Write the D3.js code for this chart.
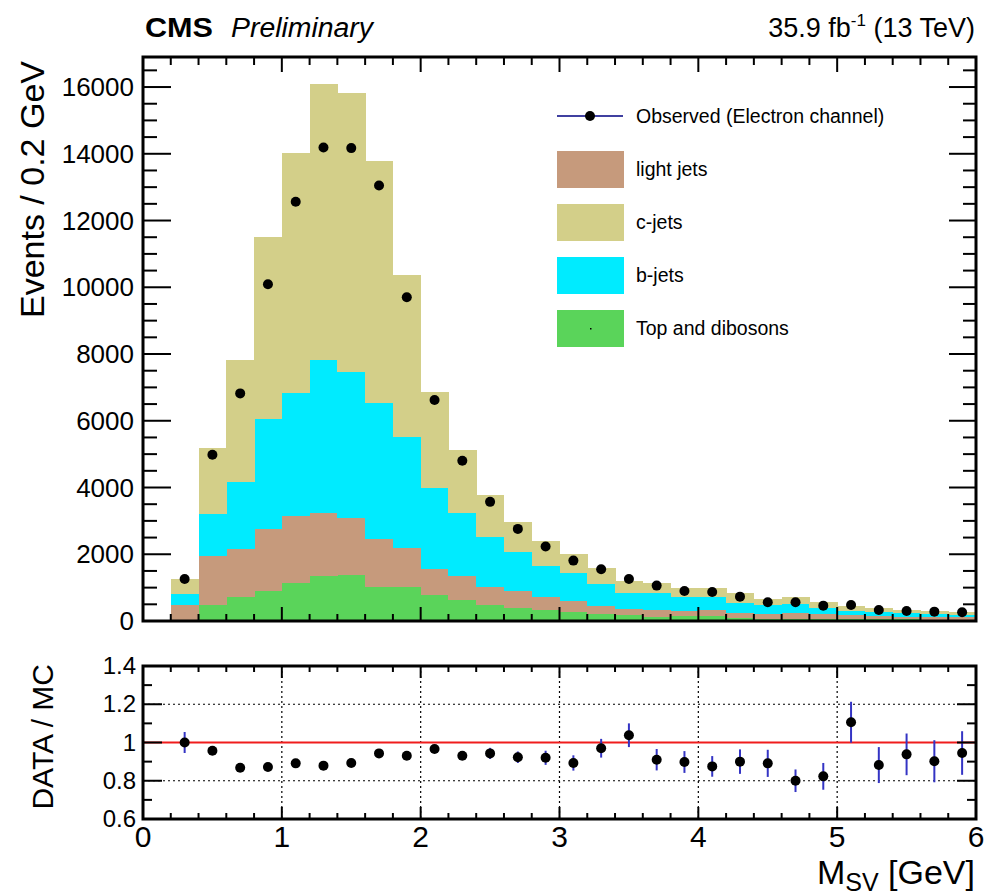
<!DOCTYPE html>
<html>
<head>
<meta charset="utf-8">
<script src="https://cdn.jsdelivr.net/npm/d3@7"></script>
<style>
  body { margin: 0; background: #fff; }
  svg text { font-family: "Liberation Sans", Arial, Helvetica, sans-serif; fill: #000; }
</style>
</head>
<body>
<svg id="chart" width="991" height="895"></svg>
<script>
// Secondary-vertex mass, bin centres (0.2 GeV bins)
const binCenters = [0.3, 0.5, 0.7, 0.9, 1.1, 1.3, 1.5, 1.7, 1.9, 2.1, 2.3, 2.5, 2.7, 2.9, 3.1,
                    3.3, 3.5, 3.7, 3.9, 4.1, 4.3, 4.5, 4.7, 4.9, 5.1, 5.3, 5.5, 5.7, 5.9];
const binWidth = 0.2;

// Simulated contributions per bin (events), stacked bottom to top
const topDibosons = [0, 470, 710, 900, 1130, 1350, 1380, 1030, 1010, 780, 640, 470, 390, 330, 270,
                     220, 170, 130, 160, 160, 80, 60, 60, 60, 50, 50, 50, 40, 40];
const lightJets   = [480, 1470, 1440, 1850, 2020, 1890, 1720, 1420, 1180, 790, 720, 540, 500, 380, 340,
                     230, 200, 200, 150, 170, 150, 140, 170, 140, 120, 100, 80, 90, 70];
const bJets       = [340, 1260, 2030, 3310, 3690, 4590, 4350, 4080, 3310, 2430, 1870, 1520, 1170, 940, 820,
                     660, 460, 500, 400, 390, 320, 280, 280, 180, 130, 110, 100, 80, 70];
const cJets       = [430, 1990, 3630, 5450, 7190, 8270, 8370, 7260, 4870, 2850, 1900, 1240, 920, 760, 580,
                     470, 370, 310, 270, 260, 280, 170, 200, 180, 150, 140, 100, 100, 100];

// Observed events (electron channel)
const observed = [1260, 4980, 6820, 10090, 12560, 14190, 14170, 13050, 9700, 6620, 4800, 3570, 2760, 2230, 1810,
                  1550, 1260, 1060, 900, 870, 730, 560, 560, 460, 480, 330, 300, 280, 260];

// Data / MC ratio with its uncertainty
const ratio    = [1.00, 0.957, 0.868, 0.872, 0.891, 0.879, 0.893, 0.943, 0.931, 0.966, 0.931, 0.943, 0.923, 0.920, 0.893,
                  0.970, 1.038, 0.910, 0.898, 0.875, 0.900, 0.891, 0.800, 0.823, 1.106, 0.882, 0.938, 0.902, 0.945];
const ratioErr = [0.055, 0.012, 0.012, 0.010, 0.008, 0.008, 0.008, 0.009, 0.010, 0.013, 0.015, 0.029, 0.030, 0.037, 0.040,
                  0.049, 0.062, 0.056, 0.057, 0.054, 0.064, 0.071, 0.059, 0.070, 0.107, 0.094, 0.109, 0.110, 0.114];

// Axis ticks
const xMajorTicks = [0, 1, 2, 3, 4, 5, 6];
const xMinorTicks = [0.2, 0.4, 0.6, 0.8, 1.2, 1.4, 1.6, 1.8, 2.2, 2.4, 2.6, 2.8, 3.2, 3.4, 3.6, 3.8,
                     4.2, 4.4, 4.6, 4.8, 5.2, 5.4, 5.6, 5.8];
const yMajorTicks = [0, 2000, 4000, 6000, 8000, 10000, 12000, 14000, 16000];
const yMinorTicks = [500, 1000, 1500, 2500, 3000, 3500, 4500, 5000, 5500, 6500, 7000, 7500, 8500, 9000, 9500,
                     10500, 11000, 11500, 12500, 13000, 13500, 14500, 15000, 15500, 16500];
const rMajorTicks = [0.6, 0.8, 1.0, 1.2, 1.4];
const rMinorTicks = [0.7, 0.9, 1.1, 1.3];
const rGridY = [0.8, 1.0, 1.2];
const rGridX = [1, 2, 3, 4, 5];

const seriesNames  = ["Top and dibosons", "light jets", "b-jets", "c-jets"];
const seriesColors = ["#5ad45a", "#c69a7c", "#00ebff", "#d3cf89"];
const legendOrder  = ["light jets", "c-jets", "b-jets", "Top and dibosons"];

const svg = d3.select("#chart");

const x = d3.scaleLinear().domain([0, 6]).range([143, 976]);
const yTop = d3.scaleLinear().domain([0, 16900]).range([621, 57]);
const yLow = d3.scaleLinear().domain([0.6, 1.4]).range([819, 666]);

// ---------- stacked histogram ----------
const rows = binCenters.map((c, i) => ({
  c,
  "Top and dibosons": topDibosons[i],
  "light jets": lightJets[i],
  "b-jets": bJets[i],
  "c-jets": cJets[i]
}));
const stacked = d3.stack().keys(seriesNames)(rows);

const gHist = svg.append("g").attr("shape-rendering", "crispEdges");
stacked.forEach((layer, k) => {
  gHist.append("g")
    .attr("fill", seriesColors[k])
    .selectAll("rect")
    .data(layer)
    .join("rect")
    .attr("x", d => x(d.data.c - binWidth / 2))
    .attr("width", d => x(d.data.c + binWidth / 2) - x(d.data.c - binWidth / 2) + 0.5)
    .attr("y", d => yTop(d[1]))
    .attr("height", d => yTop(d[0]) - yTop(d[1]));
});

// observed points
svg.append("g")
  .selectAll("circle")
  .data(binCenters)
  .join("circle")
  .attr("cx", d => x(d))
  .attr("cy", (d, i) => yTop(observed[i]))
  .attr("r", 5)
  .attr("fill", "#000");

// ---------- frame & ticks helpers ----------
function frame(y0, y1) {
  svg.append("rect")
    .attr("x", x(0)).attr("y", y1)
    .attr("width", x(6) - x(0)).attr("height", y0 - y1)
    .attr("fill", "none").attr("stroke", "#000").attr("stroke-width", 3);
}
function ticksX(vals, yPos, len) {
  svg.append("g").selectAll("line").data(vals).join("line")
    .attr("x1", d => x(d)).attr("x2", d => x(d))
    .attr("y1", yPos).attr("y2", yPos + len)
    .attr("stroke", "#000").attr("stroke-width", 2);
}
function ticksY(scale, vals, xPos, len) {
  svg.append("g").selectAll("line").data(vals).join("line")
    .attr("x1", xPos).attr("x2", xPos + len)
    .attr("y1", d => scale(d)).attr("y2", d => scale(d))
    .attr("stroke", "#000").attr("stroke-width", 2);
}

// upper panel frame and ticks
frame(yTop(0), 57);
ticksX(xMajorTicks, 621, -14);
ticksX(xMinorTicks, 621, -7);
ticksX(xMajorTicks, 57, 15);
ticksX(xMinorTicks, 57, 8);
ticksY(yTop, yMajorTicks, 143, 28);
ticksY(yTop, yMinorTicks.filter(v => yTop(v) > 58), 143, 14);
ticksY(yTop, yMajorTicks, 976, -27);
ticksY(yTop, yMinorTicks.filter(v => yTop(v) > 58), 976, -13);

// upper y tick labels
svg.append("g").selectAll("text").data(yMajorTicks).join("text")
  .attr("x", 134).attr("y", d => yTop(d) + 9)
  .attr("text-anchor", "end")
  .attr("font-size", 26)
  .text(d => d3.format("d")(d));

svg.append("text")
  .attr("transform", `translate(44,61) rotate(-90)`)
  .attr("text-anchor", "end")
  .attr("font-size", 34)
  .text("Events / 0.2 GeV");

// ---------- ratio panel ----------
const gGrid = svg.append("g").attr("stroke", "#000").attr("stroke-width", 1.2).attr("stroke-dasharray", "2,3");
gGrid.selectAll(".gx").data(rGridX).join("line")
  .attr("x1", d => x(d)).attr("x2", d => x(d))
  .attr("y1", yLow(1.4)).attr("y2", yLow(0.6));
gGrid.selectAll(".gy").data(rGridY).join("line")
  .attr("x1", x(0)).attr("x2", x(6))
  .attr("y1", d => yLow(d)).attr("y2", d => yLow(d));

svg.append("line")
  .attr("x1", x(0)).attr("x2", x(6))
  .attr("y1", yLow(1)).attr("y2", yLow(1))
  .attr("stroke", "#f01c1c").attr("stroke-width", 2);

svg.append("g").selectAll("line").data(binCenters).join("line")
  .attr("x1", d => x(d)).attr("x2", d => x(d))
  .attr("y1", (d, i) => yLow(ratio[i] - ratioErr[i]))
  .attr("y2", (d, i) => yLow(ratio[i] + ratioErr[i]))
  .attr("stroke", "#3434c4").attr("stroke-width", 2);

svg.append("g").selectAll("circle").data(binCenters).join("circle")
  .attr("cx", d => x(d))
  .attr("cy", (d, i) => yLow(ratio[i]))
  .attr("r", 5)
  .attr("fill", "#000");

frame(yLow(0.6), yLow(1.4));
ticksX(xMajorTicks, 819, -12);
ticksX(xMinorTicks, 819, -6);
ticksX(xMajorTicks, 666, 12);
ticksX(xMinorTicks, 666, 6);
ticksY(yLow, rMajorTicks, 143, 19);
ticksY(yLow, rMinorTicks, 143, 9);
ticksY(yLow, rMajorTicks, 976, -19);
ticksY(yLow, rMinorTicks, 976, -9);

svg.append("g").selectAll("text").data(rMajorTicks).join("text")
  .attr("x", 136).attr("y", d => yLow(d) + 8)
  .attr("text-anchor", "end")
  .attr("font-size", 24)
  .text(d => (d === 1 ? "1" : d3.format(".1f")(d)));

svg.append("text")
  .attr("transform", `translate(53,664) rotate(-90)`)
  .attr("text-anchor", "end")
  .attr("font-size", 30)
  .text("DATA / MC");

svg.append("g").selectAll("text").data(xMajorTicks).join("text")
  .attr("x", d => x(d)).attr("y", 847)
  .attr("text-anchor", "middle")
  .attr("font-size", 30)
  .text(d => d);

const xt = svg.append("text")
  .attr("x", 975).attr("y", 884)
  .attr("text-anchor", "end")
  .attr("font-size", 34);
xt.append("tspan").text("M");
xt.append("tspan").attr("font-size", 25).attr("dy", 7).text("SV");
xt.append("tspan").attr("dy", -7).text(" [GeV]");

// ---------- header ----------
svg.append("text")
  .attr("x", 145).attr("y", 37)
  .attr("font-size", 28).attr("font-weight", "bold")
  .attr("textLength", 68).attr("lengthAdjust", "spacingAndGlyphs")
  .text("CMS");
svg.append("text")
  .attr("x", 231).attr("y", 37)
  .attr("font-size", 27).attr("font-style", "italic")
  .attr("textLength", 142).attr("lengthAdjust", "spacingAndGlyphs")
  .text("Preliminary");
const lumi = svg.append("text")
  .attr("x", 975).attr("y", 37)
  .attr("text-anchor", "end")
  .attr("font-size", 27);
lumi.append("tspan").text("35.9 fb");
lumi.append("tspan").attr("font-size", 17).attr("dy", -11).text("-1");
lumi.append("tspan").attr("dy", 11).text(" (13 TeV)");

// ---------- legend ----------
const lg = svg.append("g");
lg.append("line")
  .attr("x1", 557).attr("x2", 623).attr("y1", 116).attr("y2", 116)
  .attr("stroke", "#000080").attr("stroke-width", 1.5);
lg.append("circle").attr("cx", 590).attr("cy", 116).attr("r", 5).attr("fill", "#000");
lg.append("text").attr("x", 636).attr("y", 123).attr("font-size", 19.5).text("Observed (Electron channel)");

const legendRows = lg.selectAll(".row").data(legendOrder).join("g")
  .attr("transform", (d, i) => `translate(0,${151 + i * 53})`);
legendRows.append("rect")
  .attr("x", 557).attr("y", 0).attr("width", 67).attr("height", 37)
  .attr("fill", d => seriesColors[seriesNames.indexOf(d)]);
legendRows.append("text")
  .attr("x", 636).attr("y", 25).attr("font-size", 19.5)
  .text(d => d);
legendRows.filter(d => d === "Top and dibosons").append("rect")
  .attr("x", 590).attr("y", 18).attr("width", 1.5).attr("height", 1.5).attr("fill", "#000");
</script>
</body>
</html>
